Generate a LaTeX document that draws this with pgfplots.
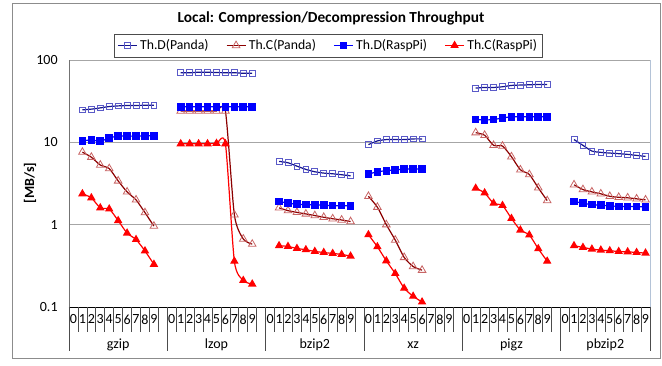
\documentclass[border=0pt]{standalone}
\usepackage{fontspec}
\setmainfont{Carlito}
\usepackage{pgfplots}
\pgfplotsset{compat=1.18}
\usepackage{pgfplotstable}

\definecolor{dpline}{RGB}{20,20,140}
\definecolor{dpmark}{RGB}{90,90,200}
\definecolor{dpfill}{RGB}{232,232,250}
\definecolor{cpline}{RGB}{140,0,0}
\definecolor{cpmark}{RGB}{200,100,100}
\definecolor{cpfill}{RGB}{252,238,238}
\definecolor{drcol}{RGB}{0,0,255}
\definecolor{crcol}{RGB}{255,0,0}
\definecolor{rightedge}{RGB}{180,195,215}

\pgfplotstableread{
x DP CP DR CR
0 nan nan nan nan
1 24.8 7.6 10.4 2.37
2 25.3 6.6 10.7 2.12
3 26.2 5.3 10.3 1.60
4 27.2 4.8 11.3 1.55
5 27.7 3.4 11.9 1.12
6 28.0 2.5 11.9 0.79
7 28.0 2.0 11.9 0.66
8 28.2 1.4 12.0 0.48
9 28.2 0.96 12.0 0.33
11 nan nan nan nan
12 70 24 27 9.6
13 70 24 27 9.6
14 71 24 27 9.6
15 71 24 27 9.6
16 70.5 24 27 9.7
17 70 24 27 9.6
18 70 1.32 27 0.36
19 69 0.67 27 0.21
20 69 0.58 27 0.19
22 nan nan nan nan
23 5.87 1.60 1.92 0.555
24 5.65 1.48 1.82 0.544
25 5.14 1.41 1.77 0.514
26 4.69 1.35 1.75 0.496
27 4.39 1.29 1.74 0.473
28 4.23 1.23 1.72 0.459
29 4.15 1.18 1.70 0.447
30 4.04 1.14 1.70 0.435
31 3.92 1.09 1.69 0.415
32 nan nan nan nan
33 9.38 2.21 4.11 0.755
34 10.4 1.63 4.39 0.539
35 10.8 1.00 4.52 0.364
36 10.8 0.65 4.64 0.255
37 10.8 0.40 4.73 0.169
38 11.0 0.31 4.73 0.135
39 11.0 0.28 4.73 0.115
40 nan nan nan nan
44 nan nan nan nan
45 45.6 13.1 18.9 2.77
46 46.4 12.2 18.7 2.43
47 46.4 9.19 18.9 1.82
48 47.3 9.02 19.8 1.71
49 49.1 6.69 20.4 1.19
50 49.6 4.64 20.4 0.86
51 50.0 4.07 20.4 0.75
52 50.5 2.80 20.4 0.51
53 50.5 1.96 20.4 0.36
55 nan nan nan nan
56 10.8 3.05 1.92 0.555
57 9.19 2.67 1.82 0.529
58 7.84 2.50 1.75 0.505
59 7.55 2.37 1.72 0.491
60 7.41 2.21 1.69 0.482
61 7.28 2.15 1.67 0.472
62 7.14 2.12 1.66 0.468
63 6.94 2.06 1.66 0.459
64 6.75 2.00 1.64 0.452
}\data

\begin{document}
\begin{tikzpicture}
\begin{axis}[
  at={(0,0)}, anchor=south west,
  scale only axis, width=435.75pt, height=185.25pt,
  ymode=log, log basis y=10,
  ymin=0.1, ymax=100,
  xmin=-0.5, xmax=64.5,
  ytick={0.1,1,10,100}, yticklabels={0.1,1,10,100},
  xtick={0,...,64},
  xticklabels={0,1,2,3,4,5,6,7,8,9,{},0,1,2,3,4,5,6,7,8,9,{},0,1,2,3,4,5,6,7,8,9,{},0,1,2,3,4,5,6,7,8,9,{},0,1,2,3,4,5,6,7,8,9,{},0,1,2,3,4,5,6,7,8,9},
  tickwidth=0pt, subtickwidth=0pt,
  ymajorgrids, yminorgrids,
  major grid style={black!35, line width=0.6pt},
  minor grid style={black!18, line width=0.5pt},
  axis line style={draw=none},
  clip=false,
  unbounded coords=jump,
  tick label style={font=\fontsize{10.5}{12}\selectfont},
  yticklabel style={xshift=-5pt},
  xticklabel style={yshift=-4.5pt, inner sep=1pt},
  legend columns=4,
  legend style={at={(0.4466,1.0587)}, anchor=center, draw=black!70,
    font=\fontsize{10.3}{12}\selectfont, inner sep=2pt,
    /tikz/every even column/.append style={column sep=11pt}},
  legend image code/.code={\draw[mark repeat=2,mark phase=2] plot coordinates {(0cm,0cm) (0.25cm,0cm) (0.5cm,0cm)};},
]
\addplot[dpline, line width=0.9pt, smooth, tension=0.4, mark=square, mark size=2.2pt,
  mark options={draw=dpmark, fill=dpfill, line width=0.6pt, solid}] table[x=x,y=DP]{\data};
\addlegendentry{Th.D(Panda)}
\addplot[cpline, line width=0.9pt, smooth, tension=0.4, mark=triangle, mark size=3.3pt,
  mark options={draw=cpmark, fill=cpfill, line width=0.6pt, solid}] table[x=x,y=CP]{\data};
\addlegendentry{Th.C(Panda)}
\addplot[drcol, line width=0.9pt, smooth, tension=0.4, mark=square*, mark size=2.4pt,
  mark options={draw=drcol, fill=drcol, solid}] table[x=x,y=DR]{\data};
\addlegendentry{Th.D(RaspPi)}
\addplot[crcol, line width=0.9pt, smooth, tension=0.4, mark=triangle*, mark size=2.8pt,
  mark options={draw=crcol, fill=crcol, solid}] table[x=x,y=CR]{\data};
\addlegendentry{Th.C(RaspPi)}

\draw[black!55, line width=0.6pt] (rel axis cs:0,0) -- (rel axis cs:0,1);
\draw[rightedge, line width=0.6pt] (rel axis cs:1,0) -- (rel axis cs:1,1);
\draw[black, line width=0.7pt] (rel axis cs:0,0) -- (rel axis cs:1,0);
\pgfplotsinvokeforeach{-0.5,0.5,...,64.5}{\draw[black!70, line width=0.5pt] (axis cs:#1,0.1) -- ++(0pt,-19pt);}
\pgfplotsinvokeforeach{-0.5,10.5,21.5,32.5,43.5,54.5,64.5}{\draw[black!70, line width=0.5pt] (axis cs:#1,0.1) -- ++(0pt,-33pt);}
\node[font=\fontsize{10.5}{12}\selectfont, yshift=-28.5pt] at (axis cs:5,0.1) {gzip};
\node[font=\fontsize{10.5}{12}\selectfont, yshift=-28.5pt] at (axis cs:16,0.1) {lzop};
\node[font=\fontsize{10.5}{12}\selectfont, yshift=-28.5pt] at (axis cs:27,0.1) {bzip2};
\node[font=\fontsize{10.5}{12}\selectfont, yshift=-28.5pt] at (axis cs:38,0.1) {xz};
\node[font=\fontsize{10.5}{12}\selectfont, yshift=-28.5pt] at (axis cs:49,0.1) {pigz};
\node[font=\fontsize{10.5}{12}\selectfont, yshift=-28.5pt] at (axis cs:59.5,0.1) {pbzip2};
\end{axis}
\node[font=\bfseries\fontsize{11.5}{14}\selectfont] at (196.5pt,216.75pt) {Local: Compression/Decompression Throughput};
\node[font=\bfseries\fontsize{10.5}{12}\selectfont, rotate=90] at (-29.25pt,93pt) {[MB/s]};
\draw[black!45, line width=0.6pt] (-42.75pt,-38.25pt) rectangle (443.25pt,228pt);
\path[use as bounding box] (-51.75pt,-44.25pt) rectangle (444.75pt,230.25pt);
\end{tikzpicture}
\end{document}
